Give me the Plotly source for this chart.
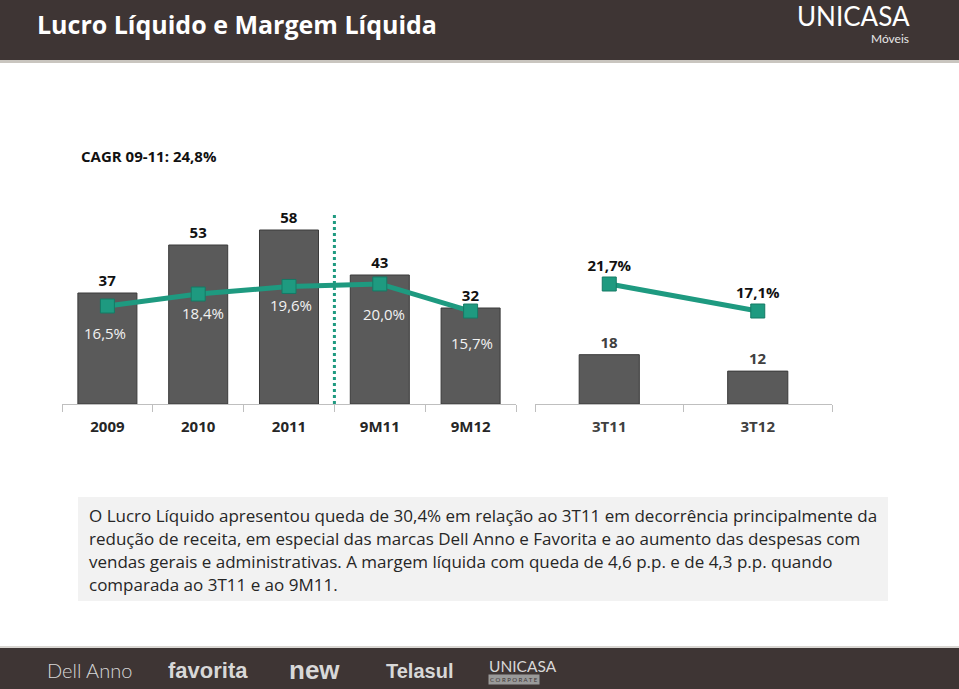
import plotly.graph_objects as go

W, H = 959, 689

# ---------------- data ----------------
periods_annual = ["2009", "2010", "2011", "9M11", "9M12"]
net_income_annual = [37, 53, 58, 43, 32]
net_margin_annual = [16.5, 18.4, 19.6, 20.0, 15.7]

periods_quarter = ["3T11", "3T12"]
net_income_quarter = [18, 12]
net_margin_quarter = [21.7, 17.1]

cagr_text = "CAGR 09-11: 24,8%"
title_text = "Lucro Líquido e Margem Líquida"
body_lines = [
    "O Lucro Líquido apresentou queda de 30,4% em relação ao 3T11 em decorrência principalmente da",
    "redução de receita, em especial das marcas Dell Anno e Favorita e ao aumento das despesas com",
    "vendas gerais e administrativas. A margem líquida com queda de 4,6 p.p. e de 4,3 p.p. quando",
    "comparada ao 3T11 e ao 9M11.",
]
brands = ["Dell Anno", "favorita", "new", "Telasul", "UNICASA"]

# ---------------- style ----------------
TEAL = "#1E9A80"
TEAL_DARK = "#157A65"
BAR = "#5A5A5A"
BAR_EDGE = "#3A3A3A"
HEADER = "#3E3534"
FONT = "Open Sans"


def fx(px):
    return px / W


def fy(py):
    return 1 - py / H


def fmt_pct(v):
    return f"{v:.1f}".replace(".", ",") + "%"


fig = go.Figure()

# Left chart bars
fig.add_trace(go.Bar(
    x=periods_annual, y=net_income_annual, xaxis="x", yaxis="y",
    marker=dict(color=BAR, line=dict(color=BAR_EDGE, width=1)),
    width=0.65,
    text=[str(v) for v in net_income_annual], textposition="outside",
    textfont=dict(family=FONT, size=15, color="#111111", weight="bold"),
    cliponaxis=False, showlegend=False, hoverinfo="skip",
))
# Left chart margin line
fig.add_trace(go.Scatter(
    x=periods_annual, y=net_margin_annual, xaxis="x", yaxis="y2",
    mode="lines+markers",
    line=dict(color=TEAL, width=5),
    marker=dict(symbol="square", size=14, color=TEAL, line=dict(color=TEAL_DARK, width=1)),
    showlegend=False, hoverinfo="skip", cliponaxis=False,
))
# Right chart bars
fig.add_trace(go.Bar(
    x=periods_quarter, y=net_income_quarter, xaxis="x2", yaxis="y3",
    marker=dict(color=BAR, line=dict(color=BAR_EDGE, width=1)),
    width=0.405,
    text=[str(v) for v in net_income_quarter], textposition="outside",
    textfont=dict(family=FONT, size=15, color="#404040", weight="bold"),
    cliponaxis=False, showlegend=False, hoverinfo="skip",
))
# Right chart margin line
fig.add_trace(go.Scatter(
    x=periods_quarter, y=net_margin_quarter, xaxis="x2", yaxis="y4",
    mode="lines+markers+text",
    line=dict(color=TEAL, width=5),
    marker=dict(symbol="square", size=14, color=TEAL, line=dict(color=TEAL_DARK, width=1)),
    text=[fmt_pct(v) for v in net_margin_quarter], textposition="top center",
    textfont=dict(family=FONT, size=15, color="#111111", weight="bold"),
    showlegend=False, hoverinfo="skip", cliponaxis=False,
))

# Margin labels (left chart) below markers
label_offsets = [-27, -19, -19, -30, -32]
label_xshift = [-2, 5, 2, 4, 1]
for i, (m, off, xs) in enumerate(zip(net_margin_annual, label_offsets, label_xshift)):
    fig.add_annotation(
        x=i, y=m, xref="x", yref="y2", text=fmt_pct(m), showarrow=False,
        yshift=off, xshift=xs, font=dict(family=FONT, size=15, color="#F2F2F2"),
    )

y_top, y_base = 212, 404
ydom = [fy(y_base), fy(y_top)]
span = y_base - y_top

axis_common = dict(
    type="category",
    showgrid=False, zeroline=False, showline=True, linecolor="#BFBFBF", linewidth=1,
    ticks="outside", ticklen=7, tickcolor="#BFBFBF", tickson="boundaries",
    ticklabelstandoff=9, fixedrange=True,
)

fig.update_layout(
    width=W, height=H,
    margin=dict(l=0, r=0, t=0, b=0),
    paper_bgcolor="white", plot_bgcolor="rgba(0,0,0,0)",
    bargap=0.35,
    xaxis=dict(domain=[fx(62), fx(516)], range=[-0.5, 4.5], anchor="y",
               tickfont=dict(family=FONT, size=15, color="#262626", weight="bold"),
               **axis_common),
    yaxis=dict(domain=ydom, range=[0, span / 3.0], visible=False, fixedrange=True),
    yaxis2=dict(overlaying="y", range=[16.5 - (y_base - 306) / 6.3, 16.5 + (306 - y_top) / 6.3],
                visible=False, fixedrange=True),
    xaxis2=dict(domain=[fx(535), fx(832)], range=[-0.5, 1.5], anchor="y3",
                tickfont=dict(family=FONT, size=15, color="#404040", weight="bold"),
                **axis_common),
    yaxis3=dict(domain=ydom, range=[0, span / 2.74], anchor="x2", visible=False, fixedrange=True),
    yaxis4=dict(overlaying="y3", anchor="x2",
                range=[21.7 - (y_base - 284) / 5.87, 21.7 + (284 - y_top) / 5.87],
                visible=False, fixedrange=True),
)

shapes = []
# Header band
shapes.append(dict(type="rect", xref="paper", yref="paper", x0=0, x1=1, y0=fy(60), y1=1,
                   fillcolor=HEADER, line=dict(width=0), layer="below"))
shapes.append(dict(type="rect", xref="paper", yref="paper", x0=0, x1=1, y0=fy(63), y1=fy(60),
                   fillcolor="#C9C5BF", line=dict(width=0), layer="below"))
# Footer band
shapes.append(dict(type="rect", xref="paper", yref="paper", x0=0, x1=1, y0=0, y1=fy(648),
                   fillcolor=HEADER, line=dict(width=0), layer="below"))
shapes.append(dict(type="rect", xref="paper", yref="paper", x0=0, x1=1, y0=fy(648), y1=fy(646),
                   fillcolor="#D9D6D2", line=dict(width=0), layer="below"))
# Text box
shapes.append(dict(type="rect", xref="paper", yref="paper", x0=fx(78), x1=fx(888), y0=fy(601), y1=fy(497),
                   fillcolor="#F2F2F2", line=dict(width=0), layer="below"))
# Dotted separator between 2011 and 9M11
shapes.append(dict(type="line", xref="x", yref="paper", x0=2.5, x1=2.5, y0=fy(404), y1=fy(212),
                   line=dict(color=TEAL, width=3, dash="dot")))
fig.update_layout(shapes=shapes)

ann = []
ann.append(dict(x=fx(35), y=fy(24), xref="paper", yref="paper", text=title_text, showarrow=False,
                xanchor="left", yanchor="middle",
                font=dict(family=FONT, size=25, color="white", weight="bold")))
ann.append(dict(x=fx(912), y=fy(16), xref="paper", yref="paper", text="UNICASA", showarrow=False,
                xanchor="right", yanchor="middle",
                font=dict(family="Lato", size=26, color="white", weight="normal")))
ann.append(dict(x=fx(911), y=fy(38), xref="paper", yref="paper", text="Móveis", showarrow=False,
                xanchor="right", yanchor="middle",
                font=dict(family="Lato", size=12, color="#E8E8E8")))
ann.append(dict(x=fx(79), y=fy(156), xref="paper", yref="paper", text=cagr_text, showarrow=False,
                xanchor="left", yanchor="middle",
                font=dict(family=FONT, size=15, color="#111111", weight="bold")))
for i, line in enumerate(body_lines):
    ann.append(dict(x=fx(87), y=fy(515 + 23 * i), xref="paper", yref="paper", text=line, showarrow=False,
                    xanchor="left", yanchor="middle",
                    font=dict(family=FONT, size=17, color="#262626")))

# footer brand marks
brand_styles = [
    dict(x=45, y=670, size=20, family="Lato", weight=300, color="#D8D8D8"),
    dict(x=166, y=670, size=22, family="Liberation Sans", weight="bold", color="#D8D8D8"),
    dict(x=287, y=670, size=26, family="Liberation Sans", weight="bold", color="#D8D8D8"),
    dict(x=384, y=671, size=20, family="Liberation Sans", weight="bold", color="#D8D8D8"),
    dict(x=487, y=666, size=15.5, family="Lato", weight="normal", color="#D8D8D8"),
]
for name, st in zip(brands, brand_styles):
    ann.append(dict(x=fx(st["x"]), y=fy(st["y"]), xref="paper", yref="paper",
                    text=name, showarrow=False, xanchor="left", yanchor="middle",
                    font=dict(family=st["family"], size=st["size"], color=st["color"], weight=st["weight"])))
ann.append(dict(x=fx(488), y=fy(679), xref="paper", yref="paper", text="C O R P O R A T E",
                showarrow=False, xanchor="left", yanchor="middle", bgcolor="#9A9A9A",
                font=dict(family="Lato", size=6, color=HEADER)))
for a in ann:
    fig.add_annotation(**a)

fig.write_html("out.html", config={"displayModeBar": False},
               post_script="document.body.style.margin='0';")
